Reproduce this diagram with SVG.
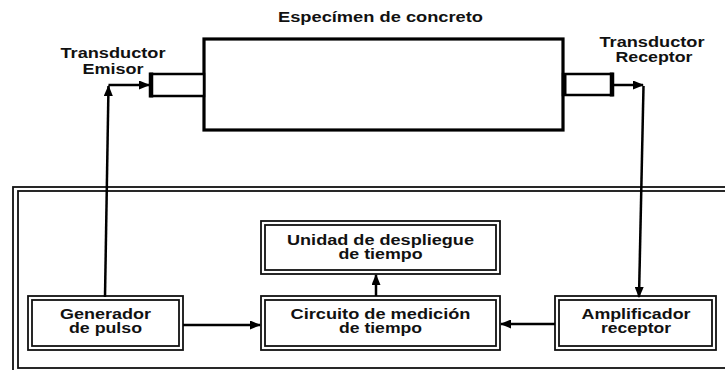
<svg xmlns="http://www.w3.org/2000/svg" width="725" height="370" viewBox="0 0 725 370">
<style>
text{font-family:"Liberation Sans",Arial,sans-serif;font-weight:bold;font-size:14px;fill:#111;text-anchor:middle}
.box{fill:none;stroke:#111;stroke-width:1.8}
.frame{fill:none;stroke:#111;stroke-width:1.8}
.conn{fill:none;stroke:#000;stroke-width:2.5}
.thick{fill:none;stroke:#000;stroke-width:3.2}
</style>
<defs>
<marker id="ah" markerUnits="userSpaceOnUse" markerWidth="11" markerHeight="9" refX="10" refY="4.5" orient="auto">
<path d="M0,0 L11,4.5 L0,9 z" fill="#000"/>
</marker>
</defs>
<rect width="725" height="370" fill="#fff"/>

<g id="frame">
<rect class="frame" x="13" y="187" width="720" height="186"/>
<rect class="frame" x="18" y="191" width="712" height="177"/>
</g>

<g id="specimen">
<rect class="thick" x="204" y="39" width="359" height="91"/>
<text x="380.5" y="22" textLength="205" lengthAdjust="spacingAndGlyphs">Especímen de concreto</text>
</g>

<g id="emisor">
<rect fill="#fff" stroke="#000" stroke-width="2.5" x="151" y="74" width="53" height="22"/>
<line x1="151" y1="72.5" x2="151" y2="97.5" stroke="#000" stroke-width="4.5"/>
<text x="113" y="58" textLength="105" lengthAdjust="spacingAndGlyphs">Transductor</text>
<text x="113" y="74" textLength="61" lengthAdjust="spacingAndGlyphs">Emisor</text>
</g>

<g id="receptor">
<rect fill="#fff" stroke="#000" stroke-width="2.5" x="563" y="74" width="49" height="21"/>
<line x1="612" y1="72.5" x2="612" y2="96.5" stroke="#000" stroke-width="4.5"/>
<line x1="564.5" y1="73" x2="564.5" y2="96" stroke="#000" stroke-width="4"/>
<text x="652" y="47" textLength="105" lengthAdjust="spacingAndGlyphs">Transductor</text>
<text x="654" y="62" textLength="77" lengthAdjust="spacingAndGlyphs">Receptor</text>
</g>

<g id="generador">
<rect class="box" x="28" y="296" width="155" height="54"/>
<rect class="box" x="32" y="300" width="147" height="46"/>
<text x="105.5" y="318.5" textLength="91" lengthAdjust="spacingAndGlyphs">Generador</text>
<text x="105.5" y="333" textLength="73" lengthAdjust="spacingAndGlyphs">de pulso</text>
</g>

<g id="circuito">
<rect class="box" x="261" y="296" width="239" height="54"/>
<rect class="box" x="265" y="300" width="231" height="46"/>
<text x="380.5" y="318.5" textLength="180" lengthAdjust="spacingAndGlyphs">Circuito de medición</text>
<text x="380.5" y="333" textLength="83" lengthAdjust="spacingAndGlyphs">de tiempo</text>
</g>

<g id="unidad">
<rect class="box" x="261" y="221" width="239" height="53"/>
<rect class="box" x="265" y="225" width="231" height="45"/>
<text x="380.5" y="244.5" textLength="187" lengthAdjust="spacingAndGlyphs">Unidad de despliegue</text>
<text x="380.5" y="259" textLength="84" lengthAdjust="spacingAndGlyphs">de tiempo</text>
</g>

<g id="amplificador">
<rect class="box" x="555" y="296" width="161" height="54"/>
<rect class="box" x="559" y="300" width="153" height="46"/>
<text x="636" y="318.5" textLength="109" lengthAdjust="spacingAndGlyphs">Amplificador</text>
<text x="636" y="333" textLength="70" lengthAdjust="spacingAndGlyphs">receptor</text>
</g>

<g id="connectors">
<line class="conn" x1="105" y1="297" x2="108.5" y2="86" marker-end="url(#ah)"/>
<line class="conn" x1="108.5" y1="85" x2="149" y2="85" marker-end="url(#ah)"/>
<line class="conn" x1="613" y1="85" x2="643" y2="85" marker-end="url(#ah)"/>
<line class="conn" x1="643.5" y1="86" x2="639" y2="297" marker-end="url(#ah)"/>
<line class="conn" x1="183" y1="325" x2="260" y2="325" marker-end="url(#ah)"/>
<line class="conn" x1="555" y1="324" x2="501" y2="324" marker-end="url(#ah)"/>
<line class="conn" x1="376" y1="296" x2="376" y2="275" marker-end="url(#ah)"/>
</g>
</svg>
